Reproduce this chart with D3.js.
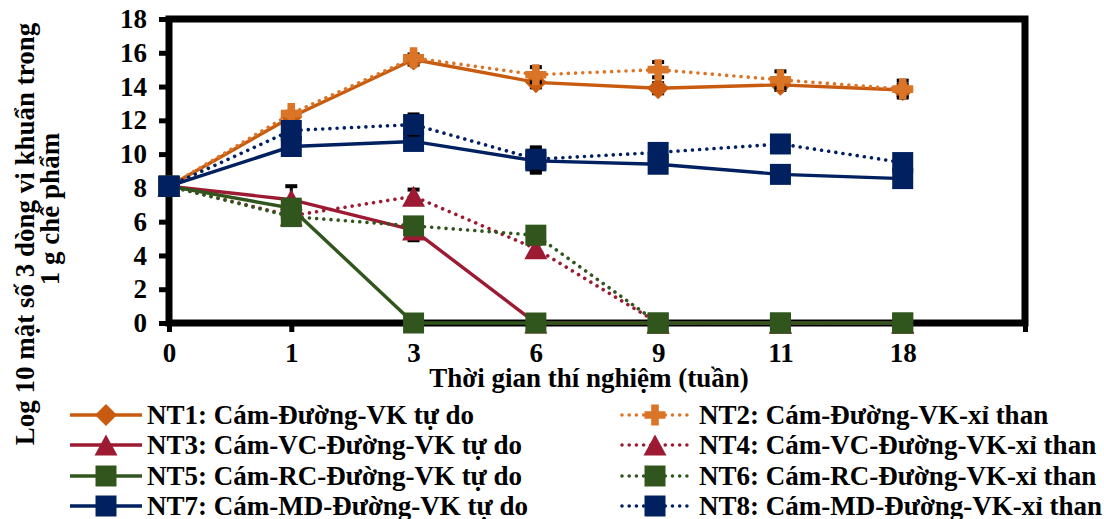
<!DOCTYPE html>
<html><head><meta charset="utf-8">
<script src="https://cdn.jsdelivr.net/npm/d3@7"></script>
<style>
html,body{margin:0;padding:0;background:#fff;}
svg{display:block;}
text{font-family:"Liberation Serif","Times New Roman",serif;font-weight:bold;fill:#000;}
</style></head>
<body>
<svg id="chart" width="1104" height="519"></svg>
<script>
// ---- data ----
const categories = ["0","1","3","6","9","11","18"];
const yTickValues = [0,2,4,6,8,10,12,14,16,18];
const seriesNames = [
  "NT1: Cám-Đường-VK tự do","NT2: Cám-Đường-VK-xỉ than",
  "NT3: Cám-VC-Đường-VK tự do","NT4: Cám-VC-Đường-VK-xỉ than",
  "NT5: Cám-RC-Đường-VK tự do","NT6: Cám-RC-Đường-VK-xỉ than",
  "NT7: Cám-MD-Đường-VK tự do","NT8: Cám-MD-Đường-VK-xỉ than"];
const nt1 = [8.1,12.2,15.6,14.25,13.9,14.1,13.8];
const nt2 = [8.1,12.4,15.7,14.7,15.0,14.4,13.85];
const nt3 = [8.1,7.3,5.5,0,0,0,0];
const nt4 = [8.1,6.35,7.5,4.4,0,0,0];
const nt5 = [8.1,6.8,0,0,0,0,0];
const nt6 = [8.1,6.3,5.75,5.2,0,0,0];
const nt7 = [8.1,10.45,10.75,9.6,9.4,8.8,8.55];
const nt8 = [8.1,11.4,11.75,9.7,10.1,10.6,9.5];
const err1 = [0,0.3,0.3,0.3,0.3,0.3,0.3];
const err2 = [0,0,0,0.45,0.45,0.5,0.5];
const err3 = [0,0.8,0.6,0,0,0,0];
const err4 = [0,0.3,0.4,0.3,0,0,0];
const err5 = [0,0.3,0,0,0,0,0];
const err6 = [0,0.3,0.3,0.3,0,0,0];
const err7 = [0,0.3,0.3,0.7,0.3,0.3,0.3];
const err8 = [0,0.3,0.6,0.7,0.3,0.3,0.3];

const xTitle = "Thời gian thí nghiệm (tuần)";
const yTitle1 = "Log 10 mật số 3 dòng vi khuẩn trong";
const yTitle2 = "1 g chế phẩm";

// ---- styles ----
const colors = ["#C85B0F","#DA7527","#9C1A32","#9C1A32","#30561E","#30561E","#002060","#002060"];
const dotted = [false,true,false,true,false,true,false,true];
const shapes = ["diamond","cross","triangle","triangle","square","square","square","square"];
const values = [nt1,nt2,nt3,nt4,nt5,nt6,nt7,nt8];
const errors = [err1,err2,err3,err4,err5,err6,err7,err8];

const svg = d3.select("#chart");
const X0 = 169, X1 = 1025, Y0 = 323, Y1 = 19;
const x = d3.scaleLinear().domain([0,7]).range([X0,X1]);
const y = d3.scaleLinear().domain([0,18]).range([Y0,Y1]);

const symTypes = {
  diamond:{draw(c){const r=11;c.moveTo(0,-r);c.lineTo(r,0);c.lineTo(0,r);c.lineTo(-r,0);c.closePath();}},
  cross:{draw(c){const a=3.8,r=10.5;c.moveTo(-a,-r);c.lineTo(a,-r);c.lineTo(a,-a);c.lineTo(r,-a);c.lineTo(r,a);c.lineTo(a,a);c.lineTo(a,r);c.lineTo(-a,r);c.lineTo(-a,a);c.lineTo(-r,a);c.lineTo(-r,-a);c.lineTo(-a,-a);c.closePath();}},
  triangle:{draw(c){const w=11.5,h=10.5;c.moveTo(0,-h);c.lineTo(w,h);c.lineTo(-w,h);c.closePath();}},
  square:{draw(c){const r=10.5;c.rect(-r,-r,2*r,2*r);}}
};
const sym = d3.symbol();

// ---- axes ----
const yAxis = d3.axisLeft(y).tickValues(yTickValues).tickSize(10).tickPadding(12).tickFormat(d3.format("d"));
const gy = svg.append("g").attr("transform",`translate(${X0},0)`).call(yAxis);
gy.select(".domain").remove();
gy.selectAll(".tick line").attr("stroke","#000").attr("stroke-width",5);
gy.selectAll(".tick text").attr("font-size",27).style("font-family",'"Liberation Serif",serif').style("font-weight","bold");

const xAxis = d3.axisBottom(x).tickValues(d3.range(0,8)).tickSize(9).tickPadding(11)
  .tickFormat(i => categories[i] !== undefined ? categories[i] : "");
const gx = svg.append("g").attr("transform",`translate(0,${Y0})`).call(xAxis);
gx.select(".domain").remove();
gx.selectAll(".tick line").attr("stroke","#000").attr("stroke-width",5);
gx.selectAll(".tick text").attr("font-size",27).style("font-family",'"Liberation Serif",serif').style("font-weight","bold");

// frame
svg.append("rect").attr("x",X0).attr("y",Y1).attr("width",X1-X0).attr("height",Y0-Y1)
  .attr("fill","none").attr("stroke","#000").attr("stroke-width",7);

// ---- series ----
const line = d3.line().x((d,i)=>x(i)).y(d=>y(d));
const plot = svg.append("g");
values.forEach((vals,s)=>{
  const g = plot.append("g");
  g.append("path").datum(vals).attr("d",line).attr("fill","none")
    .attr("stroke",colors[s]).attr("stroke-width",dotted[s]?3.6:3.4)
    .attr("stroke-linecap",dotted[s]?"round":"butt")
    .attr("stroke-dasharray",dotted[s]?"0.01,7.2":null);
  vals.forEach((v,i)=>{
    const e = errors[s][i];
    if(!e) return;
    g.append("line").attr("x1",x(i)).attr("x2",x(i)).attr("y1",y(v+e)).attr("y2",y(v-e))
      .attr("stroke","#000").attr("stroke-width",3);
    [v+e,v-e].forEach(t=>{
      g.append("line").attr("x1",x(i)-6).attr("x2",x(i)+6).attr("y1",y(t)).attr("y2",y(t))
        .attr("stroke","#000").attr("stroke-width",4);
    });
  });
  g.selectAll("path.m").data(vals).join("path").attr("class","m")
    .attr("transform",(d,i)=>`translate(${x(i)},${y(d)})`)
    .attr("d",sym.type(symTypes[shapes[s]])()).attr("fill",colors[s]);
});

// ---- titles ----
svg.append("text").attr("x",589).attr("y",387).attr("text-anchor","middle").attr("font-size",27).text(xTitle);
svg.append("text").attr("transform","translate(34,234) rotate(-90)").attr("text-anchor","middle").attr("font-size",27).text(yTitle1);
svg.append("text").attr("transform","translate(59,209) rotate(-90)").attr("text-anchor","middle").attr("font-size",27).text(yTitle2);

// ---- legend ----
const rowY = [424,454,485,515];
seriesNames.forEach((name,s)=>{
  const col = s%2, row = Math.floor(s/2);
  const lx0 = col===0 ? 70 : 622, lx1 = col===0 ? 142 : 688, tx = col===0 ? 147 : 699;
  const cy = rowY[row]-9;
  const g = svg.append("g");
  g.append("line").attr("x1",lx0).attr("x2",lx1).attr("y1",cy).attr("y2",cy)
    .attr("stroke",colors[s]).attr("stroke-width",dotted[s]?3.6:3.4)
    .attr("stroke-linecap",dotted[s]?"round":"butt")
    .attr("stroke-dasharray",dotted[s]?"0.01,7.2":null);
  g.append("path").attr("transform",`translate(${(lx0+lx1)/2},${cy})`)
    .attr("d",sym.type(symTypes[shapes[s]])()).attr("fill",colors[s]);
  g.append("text").attr("x",tx).attr("y",rowY[row]).attr("font-size",27).text(name);
});
</script>
</body></html>
